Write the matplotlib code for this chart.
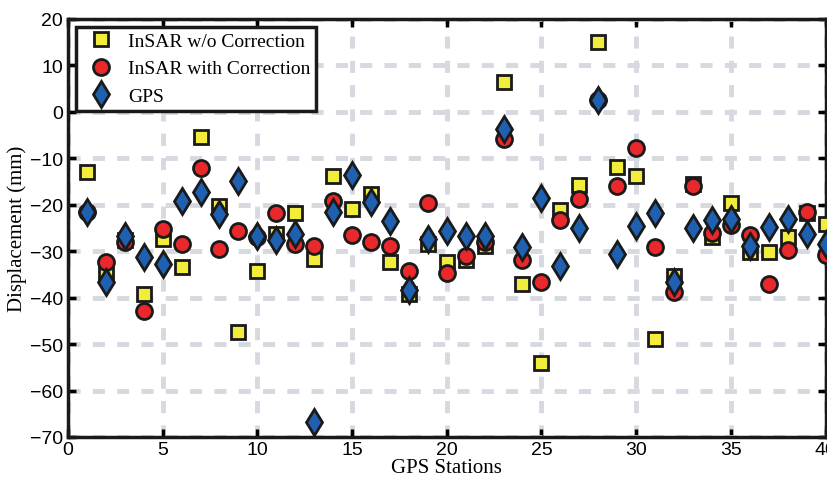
import numpy as np
import matplotlib.pyplot as plt

# Datos (mm)
stations = np.arange(1, 41)
insar_raw = [-13, -34.5, -27.5, -39.2, -27.4, -33.4, -5.4, -20.2, -47.4, -34.2,
             -26.3, -21.8, -31.7, -13.8, -20.9, -17.7, -32.3, -39.2, -28.4, -32.4,
             -32.0, -28.8, 6.4, -37.1, -54.1, -21.1, -15.7, 15.0, -11.8, -13.8,
             -48.9, -35.3, -15.5, -27.0, -19.6, -30.2, -30.1, -27.0, -21.8, -24.1]
insar_corr = [-21.5, -32.4, -28.0, -42.8, -25.2, -28.5, -12.1, -29.5, -25.6, -27.0,
              -21.8, -28.5, -28.8, -19.1, -26.5, -28.0, -28.8, -34.2, -19.6, -34.6,
              -31.0, -28.0, -5.8, -32.0, -36.7, -23.2, -18.8, 2.5, -15.9, -7.8,
              -29.2, -38.7, -16.0, -26.0, -24.4, -26.5, -37.1, -29.7, -21.6, -30.8]
gps = [-21.6, -36.7, -26.7, -31.3, -32.8, -19.1, -17.3, -22.0, -14.8, -26.7,
       -27.7, -26.3, -66.8, -21.6, -13.6, -19.4, -23.6, -38.4, -27.4, -25.6,
       -26.7, -26.8, -3.7, -29.2, -18.6, -33.1, -25.0, 2.6, -30.6, -24.5,
       -21.8, -36.7, -25.1, -23.2, -23.1, -28.8, -24.7, -23.1, -26.3, -28.5]

serif = ['Liberation Serif', 'DejaVu Serif']
plt.rcParams['font.family'] = ['Liberation Sans Narrow', 'Liberation Sans', 'DejaVu Sans']

fig = plt.figure(figsize=(8.27, 4.85), dpi=100)
ax = fig.add_axes([0.0822, 0.097, 0.916, 0.862])

ax.plot(stations, insar_raw, 's', ms=9.5, mfc='#f2ec3a', mec='#1a1a1a', mew=2,
        label='InSAR w/o Correction', zorder=3)
ax.plot(stations, insar_corr, 'o', ms=11.5, mfc='#e8282a', mec='#1a1a1a', mew=2,
        label='InSAR with Correction', zorder=4)
ax.plot(stations, gps, 'd', ms=13, mfc='#2060b0', mec='#1a1a1a', mew=2,
        label='GPS', zorder=5)

ax.set_xlim(0, 40)
ax.set_ylim(-70, 20)
ax.set_xticks(np.arange(0, 41, 5))
ax.set_yticks(np.arange(-70, 21, 10))
ax.grid(True, color='#d6dae0', linestyle=(0, (2.5, 2.5)), linewidth=3.5)
ax.set_axisbelow(True)

ax.tick_params(direction='in', length=6, width=2.5, labelsize=14, top=True, right=True)
ax.tick_params(axis='x', pad=3)
for s in ax.spines.values():
    s.set_linewidth(2.5)
    s.set_color('#1a1a1a')

ax.set_xlabel('GPS Stations', family=serif, fontsize=15, labelpad=0)
ax.set_ylabel('Displacement (mm)', family=serif, fontsize=15, labelpad=2)

leg = ax.legend(loc='upper left', prop={'family': serif, 'size': 14}, frameon=True,
                fancybox=False, edgecolor='#1a1a1a', borderaxespad=0.4,
                handletextpad=0.4, labelspacing=0.5, borderpad=0.3, numpoints=1)
leg.get_frame().set_linewidth(2.5)
leg.get_frame().set_alpha(1)

fig.savefig('out.png', dpi=100)
